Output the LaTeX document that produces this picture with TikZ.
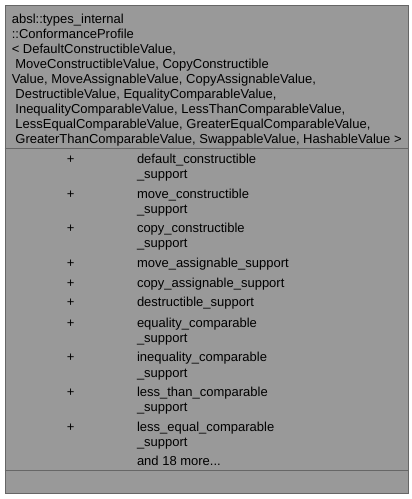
\documentclass[tikz,border=0pt]{standalone}
\usepackage{fontspec}
\setmainfont{Liberation Sans}
\definecolor{boxfill}{HTML}{999999}
\definecolor{boxline}{HTML}{666666}
\tikzset{
  txt/.style={anchor=base west, inner sep=0pt, font=\fontsize{13}{15}\selectfont},
  vis/.style={anchor=base, inner sep=0pt, font=\fontsize{13}{15}\selectfont}
}

\begin{document}
\begin{tikzpicture}[x=1pt,y=-1pt]
    \useasboundingbox (0,0) rectangle (412,499);

    % class box
    \node[draw=boxline, fill=boxfill, line width=1pt, anchor=north west,
          minimum width=403pt, minimum height=488pt, inner sep=0pt] (cls) at (4.5,4.5) {};
    \draw[boxline, line width=1pt] (cls.west |- 0,148) -- (cls.east |- 0,148);
    \draw[boxline, line width=1pt] (cls.west |- 0,470) -- (cls.east |- 0,470);

    % header
    \node[txt] (h1) at (11.6, 23) {absl::types\_internal};
    \node[txt] (h2) at (11.6, 38) {::ConformanceProfile};
    \node[txt] (h3) at (11.6, 53) {< DefaultConstructibleValue,};
    \node[txt] (h4) at (11.6, 68) {\ MoveConstructibleValue, CopyConstructible};
    \node[txt] (h5) at (11.6, 83) {Value, MoveAssignableValue, CopyAssignableValue,};
    \node[txt] (h6) at (11.6, 98) {\ DestructibleValue, EqualityComparableValue,};
    \node[txt] (h7) at (11.6, 113) {\ InequalityComparableValue, LessThanComparableValue,};
    \node[txt] (h8) at (11.6, 128) {\ LessEqualComparableValue, GreaterEqualComparableValue,};
    \node[txt] (h9) at (11.6, 143) {\ GreaterThanComparableValue, SwappableValue, HashableValue >};

    % members
    \node[vis] (v1) at (70.7, 163.5) {+};
    \node[txt] (m1a) at (136.8, 163.5) {default\_constructible};
    \node[txt] (m1b) at (136.8, 178) {\_support};

    \node[vis] (v2) at (70.7, 198.5) {+};
    \node[txt] (m2a) at (136.8, 198.5) {move\_constructible};
    \node[txt] (m2b) at (136.8, 213.5) {\_support};

    \node[vis] (v3) at (70.7, 232.5) {+};
    \node[txt] (m3a) at (136.8, 232.5) {copy\_constructible};
    \node[txt] (m3b) at (136.8, 247.5) {\_support};

    \node[vis] (v4) at (70.7, 267.5) {+};
    \node[txt] (m4) at (136.8, 267.5) {move\_assignable\_support};

    \node[vis] (v5) at (70.7, 287.5) {+};
    \node[txt] (m5) at (136.8, 287.5) {copy\_assignable\_support};

    \node[vis] (v6) at (70.7, 306.5) {+};
    \node[txt] (m6) at (136.8, 306.5) {destructible\_support};

    \node[vis] (v7) at (70.7, 327.5) {+};
    \node[txt] (m7a) at (136.8, 327.5) {equality\_comparable};
    \node[txt] (m7b) at (136.8, 342.5) {\_support};

    \node[vis] (v8) at (70.7, 361.5) {+};
    \node[txt] (m8a) at (136.8, 361.5) {inequality\_comparable};
    \node[txt] (m8b) at (136.8, 377) {\_support};

    \node[vis] (v9) at (70.7, 396.5) {+};
    \node[txt] (m9a) at (136.8, 396.5) {less\_than\_comparable};
    \node[txt] (m9b) at (136.8, 411.5) {\_support};

    \node[vis] (v10) at (70.7, 431) {+};
    \node[txt] (m10a) at (136.8, 431) {less\_equal\_comparable};
    \node[txt] (m10b) at (136.8, 446) {\_support};

    \node[txt] (more) at (136.8, 465.5) {and 18 more...};
\end{tikzpicture}
\end{document}
